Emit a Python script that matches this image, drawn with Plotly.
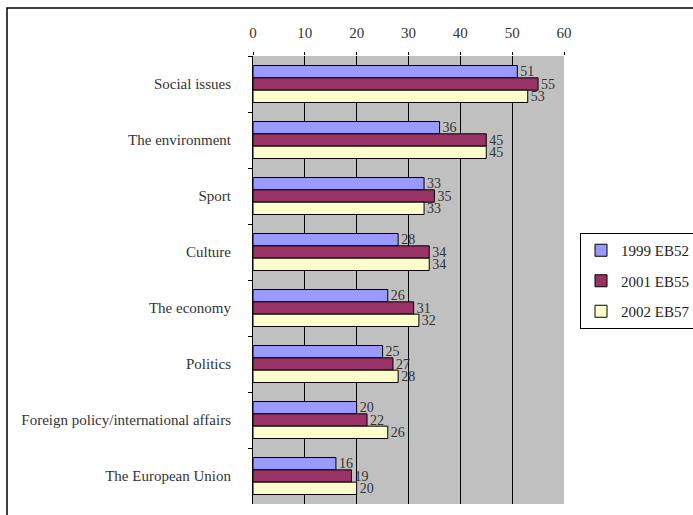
import plotly.graph_objects as go

categories = ["Social issues", "The environment", "Sport", "Culture", "The economy",
              "Politics", "Foreign policy/international affairs", "The European Union"]
series_names = ["1999 EB52", "2001 EB55", "2002 EB57"]
v1999 = [51, 36, 33, 28, 26, 25, 20, 16]
v2001 = [55, 45, 35, 34, 31, 27, 22, 19]
v2002 = [53, 45, 33, 34, 32, 28, 26, 20]
colors = ["#9999FF", "#993366", "#FFFFCC"]

FONT = "Liberation Serif, DejaVu Serif, serif"
fig = go.Figure()
for name, vals, c in zip(series_names, [v1999, v2001, v2002], colors):
    fig.add_trace(go.Bar(
        y=categories, x=vals, name=name, orientation="h", legendgroup=name,
        marker=dict(color=c, line=dict(color="black", width=1)),
        text=[str(v) for v in vals], textposition="outside",
        textfont=dict(family=FONT, size=14, color="#333333"),
        constraintext="none", cliponaxis=False,
    ))

L, R, T, B = 253, 129, 56, 11
W, H = 693, 515
pw, ph = W - L - R, H - T - B
fig.update_layout(
    width=W, height=H, barmode="group", bargap=0.34, bargroupgap=0,
    margin=dict(l=L, r=R, t=T, b=B, pad=0, autoexpand=False),
    paper_bgcolor="white", plot_bgcolor="#C0C0C0",
    font=dict(family=FONT, size=13, color="#333333"),
    xaxis=dict(side="top", range=[0, 60], dtick=10, showgrid=True, gridcolor="black",
               gridwidth=1, zeroline=False, ticks="outside", ticklen=3, tickcolor="black",
               showline=False, ticklabelstandoff=8, automargin=False,
               tickfont=dict(family=FONT, size=15, color="#333333"),
               fixedrange=True),
    yaxis=dict(autorange="reversed", showline=True, linecolor="black", linewidth=1,
               ticks="outside", ticklen=4, tickcolor="black", tickson="boundaries",
               ticklabelstandoff=18, showgrid=False, automargin=False,
               tickfont=dict(family=FONT, size=15, color="#333333")),
    legend=dict(x=(580 - L) / pw, y=(H - B - 233) / ph, xanchor="left", yanchor="top",
                bordercolor="black", borderwidth=1, bgcolor="white",
                font=dict(family=FONT, size=15, color="#222222"),
                traceorder="grouped", tracegroupgap=8, itemwidth=30),
    showlegend=True,
    shapes=[dict(type="rect", xref="paper", yref="paper",
                 x0=(7 - L) / pw, x1=1.6, y0=-0.2, y1=(H - B - 8) / ph,
                 line=dict(color="black", width=1.5), fillcolor="rgba(0,0,0,0)", layer="above")],
)
fig.write_html("out.html")
